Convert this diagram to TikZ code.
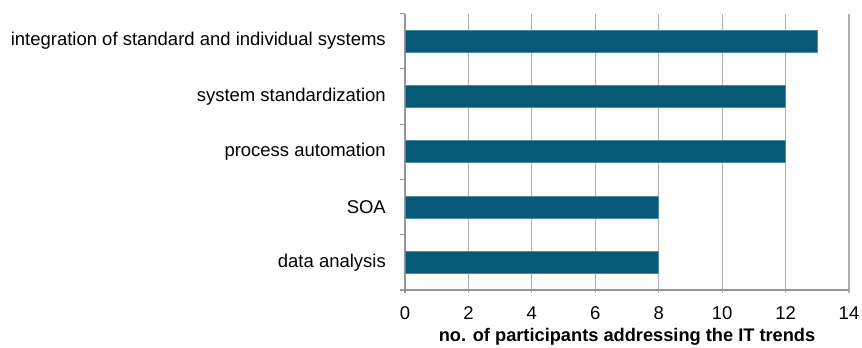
\documentclass[tikz,border=0pt]{standalone}
\usepackage{fontspec}
\setmainfont{Liberation Sans}
\definecolor{barfill}{HTML}{065A78}
\definecolor{baredge}{HTML}{4F8CA6}
\definecolor{gridc}{HTML}{AFAFAF}
\begin{document}
\begin{tikzpicture}[x=1bp,y=-1bp,
  lbl/.style={font=\fontsize{18.55}{20}\selectfont, inner sep=0pt, text=black},
  catlbl/.style={lbl, anchor=east},
  ticklbl/.style={lbl, anchor=center},
  titlelbl/.style={font=\fontsize{18.3}{20}\selectfont\bfseries, inner sep=0pt, anchor=center},
  gridline/.style={draw=gridc, line width=1.1bp},
  axisline/.style={draw=gridc!85!black, line width=1.1bp},
  bar/.style={fill=barfill, draw=baredge, line width=0.8bp}]
\useasboundingbox (0,0) rectangle (862,347);
\def\xo{405}\def\ux{31.714}
\def\ytop{13.5}\def\ybot{290}\def\cat{55.3}
% vertical grid
\foreach \v in {2,4,...,14}{
  \draw[gridline] ({\xo+\v*\ux},\ytop) -- ({\xo+\v*\ux},{\ybot+3});
}
% axes
\draw[axisline] (\xo,\ytop) -- (\xo,{\ybot+3});
\draw[axisline] (\xo,\ybot) -- ({\xo+14*\ux},\ybot);
\foreach \k in {0,...,5}{
  \draw[axisline] ({\xo-5},{\ytop+\k*\cat}) -- (\xo,{\ytop+\k*\cat});
}
% tick labels
\foreach \v in {0,2,...,14}{
  \node[ticklbl] (t\v) at ({\xo+\v*\ux},313.5) {\v};
}
\node[titlelbl] (title) at (627,337) {no. of participants addressing the IT trends};
% bars
\foreach \i/\val/\name in {0/13/integration of standard and individual systems,1/12/system standardization,2/12/process automation,3/8/SOA,4/8/data analysis}{
  \pgfmathsetmacro\yc{\ytop+(\i+0.5)*\cat}
  \draw[bar] (\xo,{\yc-11}) rectangle ({\xo+\val*\ux},{\yc+11});
  \node[catlbl] (c\i) at (386,\yc) {\name};
}
\end{tikzpicture}
\end{document}
